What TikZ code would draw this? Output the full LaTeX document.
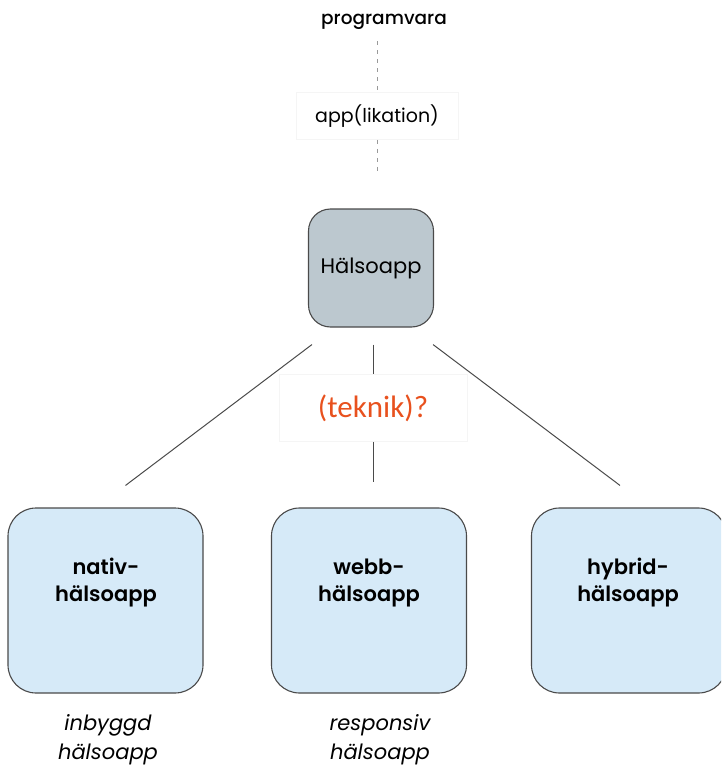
\documentclass[tikz,border=0pt]{standalone}
\usepackage{fontspec}
\setmainfont{Poppins}
\newfontfamily\semifont{Poppins SemiBold}
\newfontfamily\medfont{Poppins Medium}
\newfontfamily\tekfont{Carlito}
\usepackage{xcolor}
\usetikzlibrary{positioning,calc}

\definecolor{halsgray}{HTML}{BCC8CF}
\definecolor{appblue}{HTML}{D6EAF8}
\definecolor{tekorange}{HTML}{E8511E}
\definecolor{linegray}{HTML}{4A4A4A}

\tikzset{
  mainbox/.style={draw=linegray, line width=1.1pt, fill=halsgray, rounded corners=22pt,
    minimum width=125pt, minimum height=118pt, inner sep=0pt},
  typebox/.style={draw=linegray, line width=1.1pt, fill=appblue, rounded corners=28pt,
    minimum width=195pt, minimum height=185pt, inner sep=0pt},
  faintbox/.style={draw=black!4, line width=0.6pt, inner sep=0pt},
  typetext/.style={align=center, font=\semifont\fontsize{21}{27}\selectfont},
  notetext/.style={align=center, font=\fontsize{21}{29}\selectfont\itshape},
  dashline/.style={draw=black!40, line width=0.8pt, dash pattern=on 4pt off 5pt},
  branch/.style={draw=linegray, line width=1pt}
}

\begin{document}
\begin{tikzpicture}[x=1pt,y=-1pt]

\clip (0,0) rectangle (721,768);
\useasboundingbox (0,0) rectangle (721,768);

\node (prog) at (384,22) {\medfont\fontsize{18.5}{20}\selectfont programvara};
\node[faintbox, minimum width=162pt, minimum height=47pt] (app) at (377,116)
  {\fontsize{19}{20}\selectfont app(likation)};
\coordinate (append) at (377,172);

\node[mainbox] (hals) at (371,268) {\fontsize{21}{22}\selectfont Hälsoapp};

\node[faintbox, minimum width=188pt, minimum height=67pt] (tek) at (373,408)
  {\tekfont\fontsize{31}{34}\selectfont\color{tekorange}(teknik)?};

\node[typebox] (nativ) at (105.5,600.5) {};
\node[typebox] (webb) at (369,600.5) {};
\node[typebox] (hybrid) at (629,600.5) {};

\node[typetext] (nativtxt) at (106,583) {nativ-\\hälsoapp};
\node[typetext] (webbtxt) at (369,583) {webb-\\hälsoapp};
\node[typetext] (hybridtxt) at (628,583) {hybrid-\\hälsoapp};

\node[notetext] (nativnote) at (108,740) {inbyggd\\hälsoapp};
\node[notetext] (webbnote) at (380,740) {responsiv\\hälsoapp};

% dashed chain on top
\draw[dashline] ($(prog.south)+(-7,8)$) -- (app.north);
\draw[dashline] (app.south) -- (append);

% branches
\draw[branch] ($(hals.south west)+(4,17)$) -- ($(nativ.north)+(20,-22)$);
\draw[branch] ($(hals.south)+(2,17)$) -- (tek.north);
\draw[branch] (tek.south) -- ($(webb.north)+(4,-25)$);
\draw[branch] ($(hals.south east)+(-1,17)$) -- ($(hybrid.north)+(-9,-22)$);

\end{tikzpicture}
\end{document}
